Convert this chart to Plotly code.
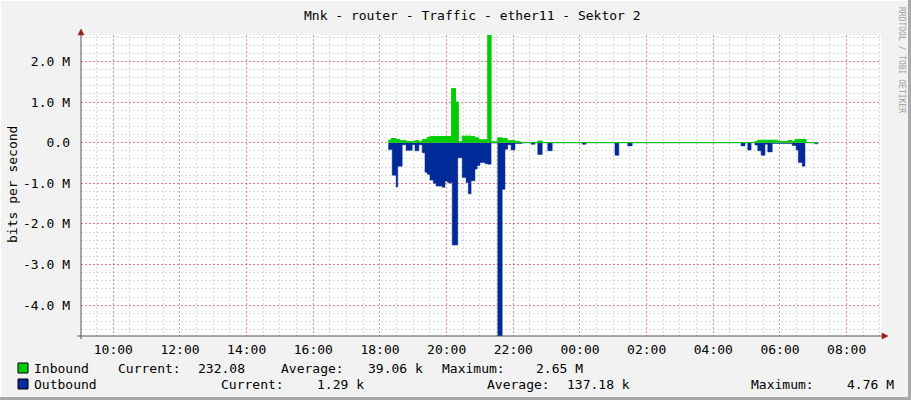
import plotly.graph_objects as go

# ---------------- data (values in Mbit/s) ----------------
in_times = ["18:15", "18:20", "18:29", "18:35", "18:47", "18:58", "19:03", "19:10", "19:16", "19:25",
            "19:30", "20:09", "20:16", "20:21", "20:28", "20:44", "20:51", "20:58", "21:14", "21:20",
            "21:32", "21:40", "21:49", "22:03", "22:12", "22:16", "22:44", "22:52", "05:15", "05:20",
            "05:56", "06:14", "06:22", "06:27", "06:47", "07:08"]
in_vals = [0.06, 0.10, 0.08, 0.05, 0.03, 0.02, 0.05, 0.02, 0.08, 0.13,
           0.15, 1.33, 1.00, 0.02, 0.16, 0.15, 0.12, 0.07, 2.65, 0.02,
           0.12, 0.10, 0.05, 0.03, 0.01, 0.0, 0.04, 0.0, 0.03, 0.06,
           0.03, 0.05, 0.03, 0.08, 0.0, 0.0]

out_times = ["18:15", "18:22", "18:29", "18:32", "18:40", "18:47", "18:58", "19:03", "19:10", "19:16",
             "19:21", "19:25", "19:30", "19:36", "19:41", "19:52", "19:57", "20:02", "20:10", "20:20",
             "20:28", "20:35", "20:39", "20:44", "20:51", "20:55", "21:00", "21:09", "21:14", "21:20",
             "21:32", "21:40", "21:45", "21:50", "21:56", "22:03", "22:16", "22:32", "22:39", "22:44",
             "22:52", "23:02", "23:10", "00:04", "00:11", "01:03", "01:10", "01:26", "01:34", "04:50",
             "04:57", "05:02", "05:08", "05:15", "05:20", "05:26", "05:33", "05:38", "05:46", "06:22",
             "06:29", "06:33", "06:40", "06:45", "07:03", "07:08"]
out_vals = [0.17, 0.80, 1.09, 0.58, 0.05, 0.19, 0.05, 0.20, 0.05, 0.25,
            0.73, 0.78, 0.92, 1.00, 1.07, 1.10, 0.95, 0.99, 2.52, 0.37,
            0.86, 0.98, 1.26, 0.94, 0.65, 0.56, 0.49, 0.52, 0.53, 0.01,
            4.76, 1.15, 0.16, 0.05, 0.18, 0.02, 0.0, 0.04, 0.0, 0.29,
            0.0, 0.20, 0.0, 0.04, 0.0, 0.31, 0.0, 0.08, 0.0, 0.08,
            0.0, 0.18, 0.0, 0.06, 0.20, 0.31, 0.04, 0.23, 0.02, 0.07,
            0.18, 0.49, 0.58, 0.0, 0.03, 0.0]

y_tick_vals = [2, 1, 0, -1, -2, -3, -4]
y_tick_text = ["2.0 M", "1.0 M", "0.0", "-1.0 M", "-2.0 M", "-3.0 M", "-4.0 M"]

title = "Mnk - router - Traffic - ether11 - Sektor 2"
legend_rows = [
    ("Inbound", "#00CC00", [("Current:", 116), ("232.08", 196), ("Average:", 279), ("39.06 k", 366),
                            ("Maximum:", 440), ("2.65 M", 534)]),
    ("Outbound", "#002A97", [("Current:", 219), ("1.29 k", 315), ("Average:", 485), ("137.18 k", 565),
                             ("Maximum:", 749), ("4.76 M", 845)]),
]

# ---------------- helpers ----------------
def to_dt(hm):
    h, m = hm.split(":")
    day = "2024-01-01" if int(h) >= 9 else "2024-01-02"
    return f"{day} {hm}:00"

W, H = 911, 400
L, R, T, B = 81, 881, 35, 336

def px(x):
    return (x - L) / (R - L)

def py(y):
    return (B - y) / (B - T)

MONO = "DejaVu Sans Mono"
GREEN = "#00CC00"
BLUE = "#002A97"

fig = go.Figure()
fig.add_trace(go.Scatter(
    x=[to_dt(t) for t in out_times], y=[-v * 1e6 for v in out_vals],
    mode="lines", line=dict(shape="hv", color=BLUE, width=0.5),
    fill="tozeroy", fillcolor=BLUE, showlegend=False, hoverinfo="skip"))
fig.add_trace(go.Scatter(
    x=[to_dt(t) for t in in_times], y=[v * 1e6 for v in in_vals],
    mode="lines", line=dict(shape="hv", color=GREEN, width=1),
    fill="tozeroy", fillcolor=GREEN, showlegend=False, hoverinfo="skip"))

major = "rgba(235,70,70,0.6)"
minor = "rgba(160,160,160,0.4)"

fig.update_layout(
    width=W, height=H,
    margin=dict(l=L, r=W - R, t=T, b=H - B),
    paper_bgcolor="#F2F2F2", plot_bgcolor="#FFFFFF",
    font=dict(family=MONO, size=13, color="#000000"),
    xaxis=dict(
        type="date", range=["2024-01-01 09:01:50", "2024-01-02 09:01:50"],
        tick0="2024-01-01 10:00:00", dtick=7200000, tickformat="%H:%M",
        showgrid=True, gridcolor=major, griddash="2px,2px", gridwidth=1,
        minor=dict(dtick=1800000, showgrid=True, gridcolor=minor, griddash="2px,2px", gridwidth=1),
        showline=False, zeroline=False, ticks="", ticklabelstandoff=4,
        tickfont=dict(family=MONO, size=13)),
    yaxis=dict(
        range=[-4.76e6, 2.65e6],
        tickvals=[v * 1e6 for v in y_tick_vals], ticktext=y_tick_text,
        showgrid=True, gridcolor=major, griddash="2px,2px", gridwidth=1,
        minor=dict(dtick=200000, showgrid=True, gridcolor=minor, griddash="2px,2px", gridwidth=1),
        showline=False, zeroline=False, ticks="", ticklabelstandoff=10,
        tickfont=dict(family=MONO, size=13)),
)

shapes = []
ann = []
# axis lines
shapes.append(dict(type="line", xref="paper", yref="paper", x0=px(77), x1=px(884), y0=py(B), y1=py(B),
                   line=dict(color="#555555", width=1)))
shapes.append(dict(type="line", xref="paper", yref="paper", x0=px(L), x1=px(L), y0=py(339), y1=py(31),
                   line=dict(color="#555555", width=1)))
# arrows
shapes.append(dict(type="path", xref="paper", yref="paper",
                   path=f"M {px(L-3)},{py(35)} L {px(L+3)},{py(35)} L {px(L)},{py(29)} Z",
                   fillcolor="#9B1B1B", line=dict(color="#9B1B1B", width=0.5)))
shapes.append(dict(type="path", xref="paper", yref="paper",
                   path=f"M {px(882)},{py(B-3)} L {px(882)},{py(B+3)} L {px(888)},{py(B)} Z",
                   fillcolor="#9B1B1B", line=dict(color="#9B1B1B", width=0.5)))
# frame of the canvas (rrd 3d look)
shapes.append(dict(type="line", xref="paper", yref="paper", x0=px(0), x1=px(W), y0=py(0.5), y1=py(0.5),
                   line=dict(color="#FFFFFF", width=1)))
shapes.append(dict(type="line", xref="paper", yref="paper", x0=px(0.5), x1=px(0.5), y0=py(0), y1=py(H),
                   line=dict(color="#FFFFFF", width=1)))
shapes.append(dict(type="rect", xref="paper", yref="paper", x0=px(908), x1=px(W), y0=py(0), y1=py(H),
                   fillcolor="#A8A8A8", line=dict(width=0)))
shapes.append(dict(type="rect", xref="paper", yref="paper", x0=px(0), x1=px(W), y0=py(397), y1=py(H),
                   fillcolor="#A8A8A8", line=dict(width=0)))

# title
ann.append(dict(text=title, x=px(472), y=py(15), xref="paper", yref="paper", showarrow=False,
                xanchor="center", yanchor="middle", font=dict(family=MONO, size=13)))
# y axis title
ann.append(dict(text="bits per second", x=px(12), y=py(185), xref="paper", yref="paper", showarrow=False,
                textangle=-90, xanchor="center", yanchor="middle", font=dict(family=MONO, size=13)))
# watermark
ann.append(dict(text="RRDTOOL / TOBI OETIKER", x=px(902), y=py(60), xref="paper", yref="paper",
                showarrow=False, textangle=90, xanchor="center", yanchor="middle",
                font=dict(family=MONO, size=8, color="#A0A0A0")))

# legend
for i, (name, col, parts) in enumerate(legend_rows):
    yc = 368 + 16 * i
    shapes.append(dict(type="rect", xref="paper", yref="paper", x0=px(18), x1=px(28), y0=py(yc - 5),
                       y1=py(yc + 5), fillcolor=col, line=dict(color="#000000", width=1)))
    ann.append(dict(text=name, x=px(32), y=py(yc), xref="paper", yref="paper", showarrow=False,
                    xanchor="left", yanchor="middle", font=dict(family=MONO, size=13)))
    for txt, xx in parts:
        ann.append(dict(text=txt, x=px(xx), y=py(yc), xref="paper", yref="paper", showarrow=False,
                        xanchor="left", yanchor="middle", font=dict(family=MONO, size=13)))

fig.update_layout(shapes=shapes, annotations=ann)
fig.write_html("out.html", config=dict(displayModeBar=False),
               post_script="document.body.style.margin='0px';document.body.style.overflow='hidden';")
